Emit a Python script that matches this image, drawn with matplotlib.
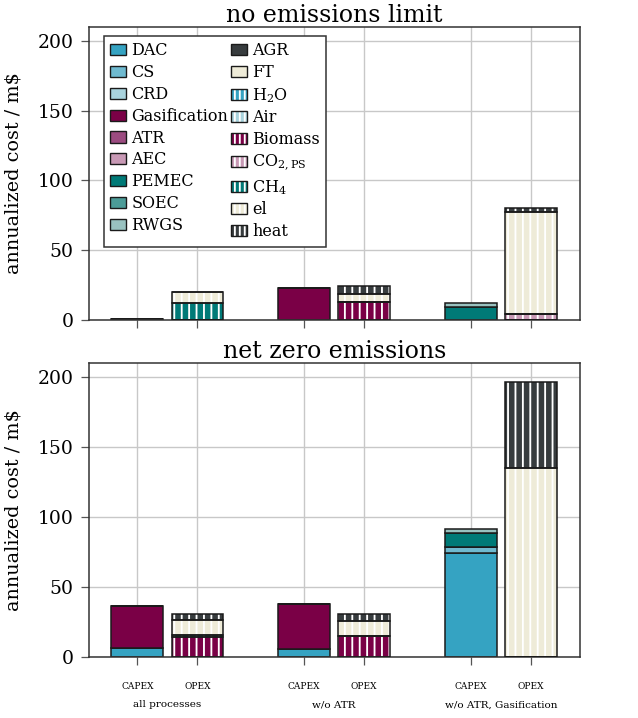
import matplotlib
matplotlib.use("Agg")
import matplotlib.pyplot as plt
import matplotlib.transforms as mtransforms
from matplotlib.patches import Patch
from matplotlib.legend_handler import HandlerTuple
import numpy as np

DPI = 89
S = 100 / DPI  # keep point sizes as if at 100 dpi

plt.rcParams['font.family'] = ['DejaVu Serif']
plt.rcParams['mathtext.fontset'] = 'dejavuserif'
plt.rcParams['hatch.linewidth'] = 1.5

# ---------------- data ----------------
groups = ["all processes", "w/o ATR", "w/o ATR, Gasification"]
bar_types = ["CAPEX", "OPEX"]
panel_titles = ["no emissions limit", "net zero emissions"]

capex_parts = ["DAC", "CS", "CRD", "Gasification", "ATR", "AEC", "PEMEC", "SOEC", "RWGS", "AGR", "FT"]
opex_parts = ["H$_2$O", "Air", "Biomass", r"CO$_{2,\mathrm{PS}}$", "CH$_4$", "el", "heat"]

capex_colors = ["#35a3c2", "#6fbad0", "#a9d3dd", "#7a0046", "#9b4b80", "#c899b5",
                "#007a77", "#4c9c98", "#99c2c0", "#373c3e", "#eeebd8"]
opex_colors = ["#35a3c2", "#a9d3dd", "#7a0046", "#c899b5", "#007a77", "#eeebd8", "#373c3e"]

# rows: groups; columns: capex_parts
capex_no_limit = [
    [0, 0, 0, 0.8, 0, 0, 0, 0, 0, 0, 0],
    [0, 0, 0, 23.1, 0, 0, 0, 0, 0, 0, 0],
    [0, 0, 0, 0, 0, 0, 9.0, 0, 3.3, 0, 0],
]
# rows: groups; columns: opex_parts
opex_no_limit = [
    [0, 0, 0, 0, 12.4, 7.3, 0],
    [0, 0, 12.6, 0, 0, 5.9, 5.9],
    [0, 0, 0, 4.0, 0, 73.1, 2.9],
]
capex_net_zero = [
    [6.2, 0, 0, 30.0, 0, 0, 0, 0, 0, 0, 0],
    [5.9, 0, 0, 31.7, 0, 0, 0, 0, 0, 0, 0],
    [74.5, 4.5, 0, 0, 0, 0, 9.8, 0, 2.9, 0, 0],
]
opex_net_zero = [
    [0, 0, 14.5, 0, 1.3, 11.0, 3.9],
    [0, 0, 15.0, 0, 0, 10.7, 5.0],
    [0, 0, 0, 0, 0, 135.2, 61.5],
]

# ---------------- figure ----------------
W, H = 638, 718
fig = plt.figure(figsize=(W / DPI, H / DPI), dpi=DPI)
left, right = 88.7, 580.0
ax_top = fig.add_axes([left / W, (H - 320) / H, (right - left) / W, (320 - 26.7) / H])
ax_bot = fig.add_axes([left / W, (H - 657) / H, (right - left) / W, (657 - 363.3) / H])

offset = 0.18
width = 0.31
edge = "#1a1a1a"
HATCH = "||"
xg = np.arange(len(groups))


def draw(ax, capex, opex):
    vals_list = [np.array(capex), np.array(opex)]
    colors_list = [capex_colors, opex_colors]
    for k, (vals, cols) in enumerate(zip(vals_list, colors_list)):
        x = xg + (-offset if k == 0 else offset)
        bottom = np.zeros(len(groups))
        for j in range(vals.shape[1]):
            v = vals[:, j]
            if np.all(v == 0):
                continue
            if k == 1:
                ax.bar(x, v, width, bottom=bottom, color=cols[j], hatch=HATCH,
                       edgecolor="white", linewidth=0, zorder=2)
                ax.bar(x, v, width, bottom=bottom, fill=False, edgecolor=edge,
                       linewidth=1.1 * S, zorder=3)
            else:
                ax.bar(x, v, width, bottom=bottom, color=cols[j],
                       edgecolor=edge, linewidth=1.1 * S, zorder=2)
            bottom = bottom + v


draw(ax_top, capex_no_limit, opex_no_limit)
draw(ax_bot, capex_net_zero, opex_net_zero)

tick_pos = np.concatenate([[g - offset, g + offset] for g in xg])
tick_lab = bar_types * len(groups)

for ax, title in zip([ax_top, ax_bot], panel_titles):
    ax.set_xlim(-0.4716, 2.474)
    ax.set_ylim(0, 210)
    ax.set_yticks([0, 50, 100, 150, 200])
    ax.set_xticks(tick_pos)
    ax.grid(True, color="#c8c8c8", linewidth=1.0 * S)
    ax.set_axisbelow(True)
    ax.tick_params(axis="y", direction="out", length=6 * S, width=0.9 * S, color="#555555",
                   labelsize=13.5 * S, pad=5 * S)
    ax.tick_params(axis="x", direction="out", length=6 * S, width=0.9 * S, color="#555555",
                   labelsize=6.5 * S, pad=12 * S)
    for s in ax.spines.values():
        s.set_color("#333333")
        s.set_linewidth(1.1 * S)
    ax.set_title(title, fontsize=17 * S, pad=3 * S)
    ax.set_ylabel("annualized cost / m$", fontsize=13.8 * S)
    ax.yaxis.set_label_coords(-0.135, 0.5)

ax_top.set_xticklabels([])
ax_bot.set_xticklabels(tick_lab)

trans = mtransforms.blended_transform_factory(ax_bot.transData, ax_bot.transAxes)
for g, name in zip(xg, groups):
    ax_bot.text(g, -0.163, name, transform=trans, ha="center", va="center", fontsize=7.5 * S)

# legend
handles, labels = [], []
for name, c in zip(capex_parts, capex_colors):
    handles.append(Patch(facecolor=c, edgecolor=edge, linewidth=1.0 * S))
    labels.append(name)
for name, c in zip(opex_parts, opex_colors):
    h1 = Patch(facecolor=c, edgecolor="white", hatch="|||", linewidth=0)
    h2 = Patch(fill=False, edgecolor=edge, linewidth=1.0 * S)
    handles.append((h1, h2))
    labels.append(name)

axw = right - left
axh = 320 - 26.7
leg = ax_top.legend(handles, labels, ncol=2, loc="upper left",
                    bbox_to_anchor=(15.3 / axw, 1 - 9.3 / axh), borderaxespad=0,
                    fontsize=11.5 * S, fancybox=False, framealpha=1, edgecolor="#333333",
                    handlelength=1.0, handleheight=0.7, handletextpad=0.3,
                    labelspacing=0.30, columnspacing=0.2, borderpad=0.4,
                    handler_map={tuple: HandlerTuple(ndivide=1, pad=0)})
leg.get_frame().set_linewidth(1.1 * S)

fig.savefig("out.png", dpi=DPI)
